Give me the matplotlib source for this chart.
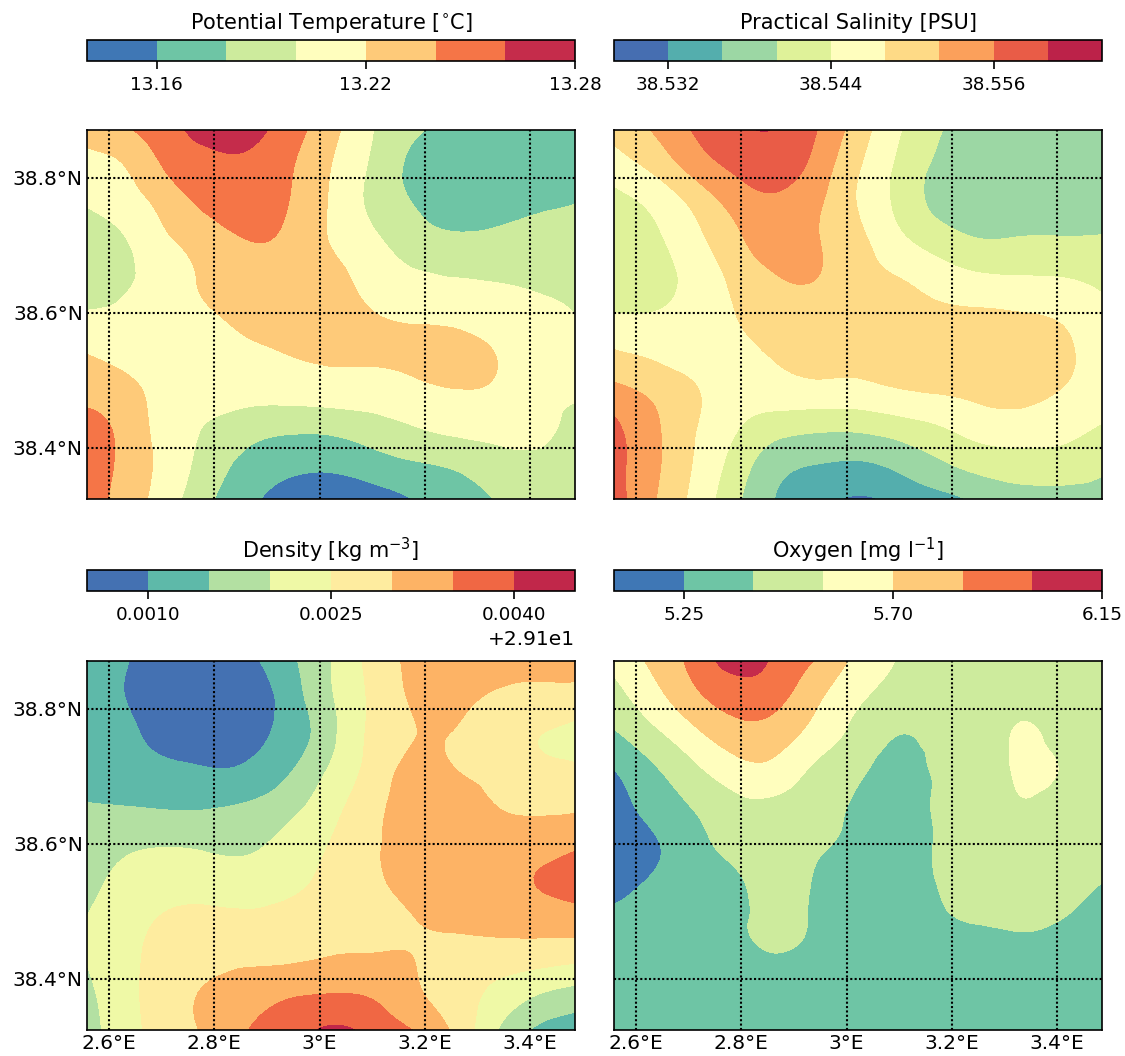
"""Four-panel hydrography maps: temperature, salinity, density, oxygen."""

import matplotlib

matplotlib.use("Agg")
import matplotlib.pyplot as plt
import matplotlib.tri as mtri
import numpy as np
from matplotlib.ticker import FormatStrFormatter, ScalarFormatter

W, H = 1125, 1056

# grid nodes, first row of each field is the northern edge
lon = np.linspace(2.558, 3.4855, 13)
lat = np.linspace(38.871, 38.324, 11)

lon_ticks = [2.6, 2.8, 3.0, 3.2, 3.4]
lon_labels = ["2.6°E", "2.8°E", "3°E", "3.2°E", "3.4°E"]
lat_ticks = [38.4, 38.6, 38.8]
lat_labels = ["38.4°N", "38.6°N", "38.8°N"]

temp_levels = [13.14, 13.16, 13.18, 13.20, 13.22, 13.24, 13.26, 13.28]
sal_levels = [38.528, 38.532, 38.536, 38.540, 38.544, 38.548, 38.552, 38.556, 38.560, 38.564]
dens_levels = [29.1005, 29.1010, 29.1015, 29.1020, 29.1025, 29.1030, 29.1035, 29.1040, 29.1045]
oxy_levels = [5.10, 5.25, 5.40, 5.55, 5.70, 5.85, 6.00, 6.15]

temperature = [
    [13.226, 13.238, 13.253, 13.268, 13.266, 13.249, 13.226, 13.201, 13.184, 13.174, 13.172, 13.172, 13.172],
    [13.214, 13.221, 13.243, 13.255, 13.257, 13.242, 13.220, 13.197, 13.176, 13.168, 13.166, 13.166, 13.167],
    [13.201, 13.210, 13.228, 13.246, 13.254, 13.239, 13.218, 13.196, 13.180, 13.168, 13.170, 13.176, 13.180],
    [13.192, 13.200, 13.218, 13.228, 13.240, 13.234, 13.219, 13.204, 13.191, 13.185, 13.186, 13.188, 13.186],
    [13.190, 13.198, 13.210, 13.224, 13.230, 13.230, 13.226, 13.212, 13.203, 13.200, 13.199, 13.197, 13.193],
    [13.202, 13.204, 13.210, 13.218, 13.226, 13.230, 13.228, 13.221, 13.216, 13.212, 13.208, 13.205, 13.200],
    [13.219, 13.212, 13.208, 13.212, 13.217, 13.221, 13.223, 13.223, 13.226, 13.230, 13.220, 13.210, 13.202],
    [13.232, 13.225, 13.210, 13.206, 13.208, 13.210, 13.212, 13.212, 13.215, 13.220, 13.218, 13.208, 13.204],
    [13.247, 13.232, 13.210, 13.199, 13.190, 13.186, 13.187, 13.193, 13.200, 13.206, 13.208, 13.206, 13.194],
    [13.254, 13.233, 13.212, 13.191, 13.174, 13.166, 13.165, 13.172, 13.179, 13.184, 13.192, 13.196, 13.196],
    [13.250, 13.230, 13.208, 13.183, 13.164, 13.152, 13.149, 13.151, 13.160, 13.169, 13.180, 13.186, 13.187],
]

salinity = [
    [38.5492, 38.5524, 38.5564, 38.5592, 38.5598, 38.5560, 38.5500, 38.5444, 38.5402, 38.5388, 38.5384, 38.5384, 38.5384],
    [38.5460, 38.5490, 38.5536, 38.5568, 38.5580, 38.5544, 38.5484, 38.5432, 38.5392, 38.5382, 38.5378, 38.5378, 38.5378],
    [38.5428, 38.5448, 38.5490, 38.5534, 38.5552, 38.5526, 38.5478, 38.5430, 38.5390, 38.5380, 38.5378, 38.5380, 38.5384],
    [38.5424, 38.5434, 38.5468, 38.5510, 38.5540, 38.5522, 38.5490, 38.5450, 38.5420, 38.5402, 38.5404, 38.5404, 38.5404],
    [38.5416, 38.5426, 38.5454, 38.5490, 38.5518, 38.5520, 38.5496, 38.5480, 38.5460, 38.5446, 38.5442, 38.5440, 38.5430],
    [38.5442, 38.5442, 38.5456, 38.5480, 38.5496, 38.5500, 38.5498, 38.5496, 38.5488, 38.5486, 38.5482, 38.5474, 38.5450],
    [38.5482, 38.5470, 38.5460, 38.5472, 38.5484, 38.5494, 38.5492, 38.5496, 38.5500, 38.5504, 38.5500, 38.5488, 38.5458],
    [38.5528, 38.5508, 38.5482, 38.5460, 38.5464, 38.5470, 38.5470, 38.5480, 38.5486, 38.5492, 38.5494, 38.5480, 38.5462],
    [38.5566, 38.5526, 38.5482, 38.5444, 38.5420, 38.5412, 38.5412, 38.5424, 38.5440, 38.5460, 38.5464, 38.5456, 38.5438],
    [38.5572, 38.5528, 38.5476, 38.5424, 38.5376, 38.5362, 38.5358, 38.5372, 38.5396, 38.5416, 38.5424, 38.5424, 38.5408],
    [38.5576, 38.5522, 38.5468, 38.5408, 38.5358, 38.5332, 38.5316, 38.5330, 38.5346, 38.5368, 38.5384, 38.5384, 38.5390],
]

density = [
    [29.10115, 29.10101, 29.10075, 29.10070, 29.10090, 29.10140, 29.10200, 29.10265, 29.10310, 29.10323, 29.10325, 29.10310, 29.10305],
    [29.10125, 29.10098, 29.10070, 29.10065, 29.10073, 29.10125, 29.10195, 29.10258, 29.10305, 29.10315, 29.10293, 29.10285, 29.10285],
    [29.10130, 29.10108, 29.10085, 29.10078, 29.10088, 29.10120, 29.10188, 29.10260, 29.10298, 29.10298, 29.10275, 29.10253, 29.10235],
    [29.10135, 29.10115, 29.10110, 29.10104, 29.10110, 29.10148, 29.10208, 29.10268, 29.10313, 29.10303, 29.10285, 29.10265, 29.10260],
    [29.10155, 29.10153, 29.10148, 29.10149, 29.10160, 29.10188, 29.10233, 29.10285, 29.10320, 29.10325, 29.10303, 29.10293, 29.10295],
    [29.10180, 29.10193, 29.10198, 29.10193, 29.10193, 29.10218, 29.10253, 29.10293, 29.10315, 29.10328, 29.10330, 29.10330, 29.10343],
    [29.10188, 29.10215, 29.10230, 29.10228, 29.10225, 29.10238, 29.10263, 29.10288, 29.10318, 29.10330, 29.10335, 29.10350, 29.10365],
    [29.10201, 29.10233, 29.10255, 29.10260, 29.10258, 29.10265, 29.10273, 29.10280, 29.10298, 29.10313, 29.10320, 29.10323, 29.10328],
    [29.10203, 29.10240, 29.10265, 29.10280, 29.10288, 29.10290, 29.10300, 29.10303, 29.10300, 29.10280, 29.10275, 29.10273, 29.10265],
    [29.10188, 29.10238, 29.10275, 29.10308, 29.10328, 29.10343, 29.10349, 29.10343, 29.10310, 29.10275, 29.10240, 29.10205, 29.10183],
    [29.10180, 29.10233, 29.10275, 29.10310, 29.10351, 29.10375, 29.10408, 29.10385, 29.10350, 29.10293, 29.10208, 29.10145, 29.10125],
]

oxygen = [
    [5.595, 5.738, 5.903, 6.053, 5.970, 5.835, 5.655, 5.543, 5.505, 5.490, 5.490, 5.490, 5.490],
    [5.490, 5.648, 5.813, 5.918, 5.888, 5.723, 5.573, 5.490, 5.483, 5.490, 5.505, 5.505, 5.490],
    [5.378, 5.513, 5.663, 5.783, 5.768, 5.633, 5.498, 5.400, 5.430, 5.468, 5.565, 5.505, 5.490],
    [5.243, 5.378, 5.513, 5.633, 5.640, 5.513, 5.423, 5.355, 5.415, 5.460, 5.573, 5.543, 5.490],
    [5.183, 5.303, 5.408, 5.505, 5.513, 5.460, 5.370, 5.333, 5.415, 5.453, 5.535, 5.483, 5.475],
    [5.145, 5.235, 5.348, 5.453, 5.475, 5.423, 5.348, 5.318, 5.415, 5.445, 5.460, 5.453, 5.445],
    [5.190, 5.273, 5.333, 5.378, 5.453, 5.385, 5.333, 5.318, 5.408, 5.445, 5.445, 5.438, 5.400],
    [5.288, 5.325, 5.348, 5.370, 5.445, 5.378, 5.340, 5.325, 5.378, 5.408, 5.415, 5.400, 5.355],
    [5.325, 5.333, 5.340, 5.355, 5.393, 5.363, 5.340, 5.325, 5.333, 5.355, 5.370, 5.355, 5.333],
    [5.325, 5.325, 5.325, 5.333, 5.340, 5.333, 5.325, 5.318, 5.318, 5.325, 5.325, 5.325, 5.318],
    [5.325, 5.325, 5.325, 5.325, 5.333, 5.325, 5.325, 5.318, 5.318, 5.318, 5.318, 5.318, 5.318],
]


def px_axes(fig, x0, y0, x1, y1):
    # pixel box measured from the top left of the figure
    return fig.add_axes([x0 / W, 1 - y1 / H, (x1 - x0) / W, (y1 - y0) / H])


def panel(fig, box, cbox, field, levels, title, tick_step, fmt, left, bottom):
    ax = px_axes(fig, *box)
    # smooth contours over the read nodes with matplotlib's own refiner
    xx, yy = np.meshgrid(lon, lat)
    tri = mtri.Triangulation(xx.ravel(), yy.ravel())
    refiner = mtri.UniformTriRefiner(tri)
    tri_fine, z_fine = refiner.refine_field(np.array(field).ravel(), subdiv=3)
    cf = ax.tricontourf(tri_fine, z_fine, levels=levels, cmap="Spectral_r")
    ax.set_xlim(lon[0], lon[-1])
    ax.set_ylim(lat[-1], lat[0])
    ax.set_xticks(lon_ticks)
    ax.set_yticks(lat_ticks)
    ax.set_xticklabels(lon_labels if bottom else [])
    ax.set_yticklabels(lat_labels if left else [])
    ax.tick_params(length=0, labelsize=9.7, pad=2)
    ax.grid(True, color="k", linestyle=(0, (1, 1.1)), linewidth=1.0)
    ax.set_axisbelow(False)

    cax = px_axes(fig, *cbox)
    cbar = fig.colorbar(cf, cax=cax, orientation="horizontal")
    cbar.set_ticks(levels[1::tick_step])
    if fmt is None:
        cax.xaxis.set_major_formatter(ScalarFormatter(useOffset=29.1))
    else:
        cax.xaxis.set_major_formatter(FormatStrFormatter(fmt))
    cax.tick_params(labelsize=8.8, length=3.6)
    cax.xaxis.get_offset_text().set_fontsize(9.7)
    cax.set_title(title, fontsize=10, pad=5.5)
    return ax


fig = plt.figure(figsize=(W / 150, H / 150), dpi=150)

panel(fig, (87, 130, 575, 499), (87, 40, 575, 61), temperature, temp_levels,
      r"Potential Temperature [$^{\circ}$C]", 3, "%.2f", True, False)
panel(fig, (614, 130, 1102, 499), (614, 40, 1102, 61), salinity, sal_levels,
      "Practical Salinity [PSU]", 3, "%.3f", False, False)
panel(fig, (87, 661, 575, 1030), (87, 570, 575, 591), density, dens_levels,
      r"Density [kg m$^{-3}$]", 3, None, True, True)
panel(fig, (614, 661, 1102, 1030), (614, 570, 1102, 591), oxygen, oxy_levels,
      r"Oxygen [mg l$^{-1}$]", 3, "%.2f", False, True)

fig.savefig("out.png", dpi=150)
plt.close(fig)
